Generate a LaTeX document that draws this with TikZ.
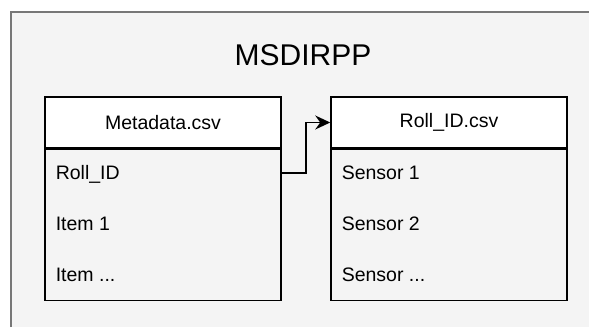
\documentclass[tikz,border=0pt]{standalone}
\usepackage{fontspec}
\setmainfont{Liberation Sans}
\usetikzlibrary{arrows.meta,positioning}

\definecolor{panelgray}{HTML}{F4F4F4}
\definecolor{edgegray}{HTML}{777777}

\begin{document}
\begin{tikzpicture}[x=1pt,y=1pt,line width=1.5pt,
                    >={Stealth[length=15pt,width=14pt,inset=5pt]}]
  \tikzset{head/.style={draw=black,fill=white,minimum width=236pt,
             minimum height=51pt,inner sep=0pt,font=\fontsize{19.5}{22}\selectfont},
           body/.style={draw=black,fill=panelgray,minimum width=236pt,
             minimum height=151pt,inner sep=0pt,below=0pt of #1},
           row/.style={anchor=west,inner sep=0pt,text height=14pt,text depth=0pt,
             font=\fontsize{19.5}{22}\selectfont}}

  \useasboundingbox (0,0) rectangle (589,327);
  \fill[panelgray] (11,0) rectangle (589,315);
  \draw[edgegray] (11,0) |- (589,315);

  \node[font=\fontsize{30}{34}\selectfont,inner sep=0pt,text height=21.5pt,
        text depth=0pt] (title) at (303,272.5) {MSDIRPP};

  % metadata table
  \node[head] (meta)  at (163,204.5) {Metadata.csv};
  \node[body=meta] (metabody) {};
  \node[row] (meta1) at (55,154) {Roll\_ID};
  \node[row] (meta2) at (55,103) {Item 1};
  \node[row] (meta3) at (55,53)  {Item ...};

  % roll table
  \node[head] (roll)  at (449,204.5) {Roll\_ID.csv};
  \node[body=roll] (rollbody) {};
  \node[row] (roll1) at (341,154) {Sensor 1};
  \node[row] (roll2) at (341,103) {Sensor 2};
  \node[row] (roll3) at (341,53)  {Sensor ...};

  \draw[->] (metabody.east |- meta1) -- ++(24,0) |- (roll.west);
\end{tikzpicture}
\end{document}
